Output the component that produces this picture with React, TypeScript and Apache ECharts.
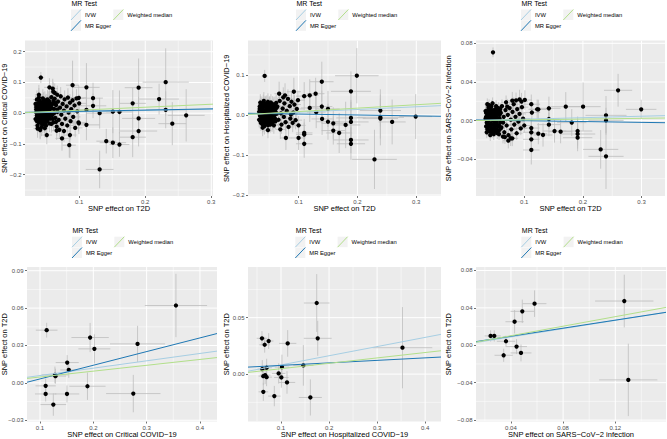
import { useEffect, useRef } from "react";
import * as echarts from "echarts";

const FONT = '"Liberation Sans", Arial, Helvetica, sans-serif';

// ---- data: [beta exposure, beta outcome, se exposure, se outcome] ----
const t2dCritical: number[][] = [
  [0.042,0.116,0.005,0.018],[0.231,0.101,0.035,0.11],[0.19,0.083,0.021,0.095],[0.221,0.046,0.03,0.05],
  [0.231,0.011,0.03,0.06],[0.262,-0.007,0.028,0.085],[0.241,-0.034,0.021,0.07],[0.19,-0.017,0.025,0.07],
  [0.19,-0.058,0.028,0.05],[0.181,0.032,0.02,0.05],[0.181,-0.078,0.02,0.065],[0.151,0.005,0.015,0.07],
  [0.161,0.004,0.02,0.07],[0.131,0.0,0.02,0.05],[0.141,-0.091,0.015,0.04],[0.151,-0.096,0.02,0.05],
  [0.161,-0.102,0.015,0.04],[0.131,-0.183,0.021,0.061],[0.111,0.084,0.02,0.079],[0.111,0.011,0.015,0.06],
  [0.111,-0.038,0.02,0.05],[0.121,0.049,0.015,0.05],[0.121,0.024,0.02,0.04],[0.085,-0.104,0.01,0.04],
  [0.086,-0.071,0.01,0.075],[0.074,-0.082,0.01,0.04],[0.09,0.091,0.01,0.08],[0.0995,0.05,0.012,0.04],
  [0.055,0.084,0.008,0.03],[0.051,-0.071,0.008,0.03],[0.048,-0.049,0.006,0.03],[0.077,-0.058,0.01,0.035],
  [0.0608,0.07,0.007,0.03],[0.0668,0.06,0.008,0.03],[0.0996,-0.033,0.012,0.035],[0.0408,-0.052,0.005,0.03],
  [0.066,-0.057,0.008,0.03],
  [0.035,0.012,0.004,0.024],[0.036,-0.008,0.005,0.026],[0.036,0.025,0.005,0.025],[0.037,-0.021,0.006,0.027],
  [0.037,0.004,0.005,0.023],[0.038,0.033,0.006,0.028],[0.038,-0.015,0.005,0.025],[0.039,0.018,0.005,0.024],
  [0.039,-0.031,0.006,0.028],[0.040,0.001,0.005,0.022],[0.040,0.041,0.006,0.029],[0.041,-0.004,0.005,0.024],
  [0.041,0.022,0.006,0.026],[0.042,-0.024,0.006,0.027],[0.042,0.009,0.005,0.023],[0.043,0.030,0.006,0.026],
  [0.043,-0.012,0.005,0.025],[0.044,0.015,0.006,0.024],[0.044,-0.037,0.006,0.029],[0.045,0.003,0.005,0.023],
  [0.045,0.026,0.006,0.027],[0.046,-0.019,0.006,0.026],[0.046,0.038,0.007,0.030],[0.047,0.007,0.005,0.024],
  [0.047,-0.028,0.006,0.028],[0.048,0.019,0.006,0.025],[0.048,-0.006,0.006,0.024],[0.049,0.031,0.006,0.027],
  [0.049,-0.015,0.006,0.026],[0.050,0.011,0.006,0.024],[0.050,-0.040,0.007,0.029],[0.051,0.024,0.006,0.026],
  [0.051,-0.002,0.006,0.023],[0.052,0.045,0.007,0.030],[0.052,-0.022,0.006,0.027],[0.053,0.006,0.006,0.024],
  [0.053,0.029,0.007,0.027],[0.054,-0.011,0.006,0.025],[0.054,0.016,0.006,0.024],[0.055,-0.033,0.007,0.028],
  [0.055,0.036,0.007,0.028],[0.056,0.002,0.006,0.024],[0.056,-0.018,0.007,0.026],[0.057,0.021,0.007,0.026],
  [0.034,0.030,0.004,0.027],[0.034,-0.019,0.004,0.026],[0.035,0.002,0.005,0.023],[0.036,0.044,0.006,0.030],
  [0.037,-0.040,0.006,0.029],[0.038,0.008,0.005,0.023],[0.039,0.051,0.006,0.031],[0.040,-0.026,0.006,0.027],
  [0.041,0.013,0.005,0.024],[0.042,0.036,0.006,0.028],[0.043,-0.045,0.006,0.030],[0.044,-0.002,0.005,0.023],
  [0.045,0.048,0.007,0.030],[0.046,0.010,0.006,0.024],[0.047,0.021,0.006,0.025],[0.048,-0.033,0.006,0.028],
  [0.049,0.004,0.006,0.024],[0.050,0.035,0.007,0.028],[0.051,-0.027,0.007,0.027],[0.052,0.013,0.006,0.024],
  [0.053,-0.004,0.006,0.024],[0.054,0.041,0.007,0.029],[0.036,0.017,0.005,0.025],[0.038,-0.003,0.005,0.023],
  [0.040,0.028,0.006,0.026],[0.042,-0.010,0.005,0.024],[0.044,0.032,0.006,0.027],[0.046,-0.008,0.006,0.025],
  [0.048,0.042,0.007,0.029],[0.050,-0.020,0.006,0.026],[0.052,0.002,0.006,0.023],[0.037,-0.050,0.006,0.030],
  [0.041,-0.055,0.006,0.030],[0.039,0.060,0.006,0.032],
  [0.035,0.020,0.004,0.025],[0.036,-0.026,0.005,0.027],[0.037,0.011,0.005,0.024],[0.038,-0.010,0.005,0.024],
  [0.039,0.027,0.005,0.026],[0.040,-0.017,0.005,0.025],[0.041,0.006,0.005,0.023],[0.042,0.017,0.005,0.025],
  [0.043,-0.029,0.006,0.027],[0.044,0.023,0.006,0.026],[0.045,-0.007,0.005,0.024],[0.046,0.016,0.006,0.025],
  [0.047,-0.037,0.006,0.028],[0.048,0.028,0.006,0.026],[0.049,-0.002,0.006,0.023],[0.050,0.021,0.006,0.025],
  [0.051,-0.011,0.006,0.025],[0.052,0.033,0.007,0.027],[0.053,-0.015,0.006,0.025],[0.055,0.010,0.006,0.024],
  [0.056,0.030,0.007,0.027],[0.057,-0.004,0.007,0.024],[0.058,-0.035,0.007,0.028],[0.059,0.016,0.007,0.025],
  [0.060,-0.019,0.007,0.026],[0.061,0.040,0.008,0.028],[0.062,0.000,0.007,0.025],[0.064,0.033,0.008,0.027],
  [0.065,-0.028,0.008,0.027],[0.067,0.012,0.008,0.025],
  [0.058,0.052,0.007,0.030],[0.059,-0.007,0.007,0.025],[0.060,0.030,0.007,0.027],[0.061,-0.030,0.008,0.028],
  [0.062,0.014,0.007,0.025],[0.063,0.047,0.008,0.029],[0.064,-0.015,0.008,0.026],[0.065,0.026,0.008,0.027],
  [0.066,-0.044,0.008,0.029],[0.067,0.004,0.008,0.025],[0.068,0.038,0.008,0.028],[0.069,-0.022,0.008,0.027],
  [0.071,0.018,0.009,0.026],[0.072,0.055,0.009,0.030],[0.073,-0.005,0.009,0.025],[0.074,-0.035,0.009,0.029],
  [0.075,0.030,0.009,0.027],[0.077,0.008,0.009,0.026],[0.078,0.045,0.009,0.029],[0.079,-0.018,0.009,0.027],
  [0.081,0.022,0.010,0.027],[0.082,-0.040,0.010,0.029],[0.083,0.051,0.010,0.030],[0.084,0.002,0.010,0.026],
  [0.086,0.034,0.010,0.028],[0.087,-0.026,0.010,0.060],[0.088,0.013,0.010,0.027],[0.090,0.042,0.011,0.029],
  [0.091,-0.012,0.011,0.027],[0.093,0.025,0.011,0.028],[0.094,-0.048,0.011,0.030],[0.096,0.048,0.011,0.030],
  [0.097,0.006,0.011,0.027],[0.099,-0.030,0.012,0.029],[0.100,0.032,0.012,0.028],[0.063,0.066,0.008,0.031],
  [0.070,-0.054,0.009,0.030],[0.060,0.080,0.008,0.032]
];

const t2dHospitalized: number[][] = [
  [0.0424,0.0975,0.005,0.015],[0.199,0.098,0.037,0.069],[0.1395,0.083,0.02,0.05],[0.189,0.059,0.034,0.05],
  [0.129,0.053,0.015,0.04],[0.119,0.049,0.015,0.04],[0.1096,0.047,0.014,0.035],[0.092,0.058,0.012,0.035],
  [0.067,0.053,0.008,0.03],[0.077,0.049,0.009,0.03],[0.1395,0.021,0.018,0.04],[0.15,0.015,0.02,0.045],
  [0.13,0.007,0.016,0.04],[0.119,0.0175,0.015,0.035],[0.14,-0.01,0.018,0.04],[0.15,-0.017,0.02,0.045],
  [0.159,-0.021,0.02,0.04],[0.159,-0.039,0.02,0.035],[0.169,-0.045,0.022,0.05],[0.18,-0.025,0.025,0.058],
  [0.189,-0.0075,0.025,0.045],[0.189,-0.0175,0.03,0.05],[0.189,-0.0625,0.03,0.033],[0.189,-0.072,0.024,0.04],
  [0.239,0.011,0.035,0.04],[0.239,-0.006,0.04,0.07],[0.239,-0.009,0.03,0.05],[0.259,-0.0175,0.023,0.056],
  [0.299,-0.004,0.028,0.056],[0.229,-0.111,0.038,0.074],[0.1096,-0.045,0.014,0.035],[0.1096,-0.049,0.014,0.03],
  [0.1096,-0.072,0.014,0.035],[0.1,-0.0575,0.012,0.03],[0.0785,-0.0575,0.01,0.03],[0.048,-0.038,0.006,0.02],
  [0.064,0.021,0.008,0.022],[0.066,-0.012,0.008,0.021],[0.068,0.035,0.008,0.024],[0.070,0.004,0.008,0.021],
  [0.071,-0.024,0.009,0.023],[0.073,0.016,0.009,0.022],[0.075,-0.005,0.009,0.021],[0.076,0.029,0.009,0.023],
  [0.078,-0.018,0.009,0.022],[0.080,0.010,0.010,0.022],[0.082,0.040,0.010,0.024],[0.083,-0.030,0.010,0.024],
  [0.085,0.022,0.010,0.023],[0.086,-0.009,0.010,0.022],[0.088,0.033,0.011,0.024],[0.090,-0.020,0.011,0.023],
  [0.091,0.006,0.011,0.022],[0.093,0.026,0.011,0.023],[0.095,-0.013,0.011,0.023],[0.097,0.015,0.012,0.023],
  [0.099,0.037,0.012,0.024],[0.100,-0.026,0.012,0.024],[0.074,0.044,0.009,0.025],[0.069,-0.036,0.008,0.024],
  [0.087,0.001,0.010,0.022],
  [0.033,0.008,0.004,0.018],[0.033,-0.012,0.004,0.019],[0.034,0.021,0.004,0.019],[0.035,-0.003,0.004,0.017],
  [0.035,0.014,0.004,0.018],[0.036,-0.020,0.005,0.020],[0.036,0.027,0.005,0.020],[0.037,0.002,0.004,0.017],
  [0.038,-0.009,0.005,0.018],[0.038,0.017,0.005,0.019],[0.039,-0.024,0.005,0.020],[0.040,0.009,0.005,0.018],
  [0.040,0.030,0.005,0.021],[0.041,-0.015,0.005,0.019],[0.042,0.004,0.005,0.017],[0.042,0.023,0.005,0.020],
  [0.043,-0.006,0.005,0.018],[0.044,0.012,0.005,0.018],[0.044,-0.019,0.005,0.020],[0.045,0.019,0.005,0.019],
  [0.046,-0.001,0.005,0.018],[0.046,0.028,0.006,0.021],[0.047,-0.013,0.005,0.019],[0.048,0.007,0.005,0.018],
  [0.048,-0.026,0.006,0.021],[0.049,0.016,0.006,0.019],[0.050,-0.007,0.006,0.018],[0.050,0.025,0.006,0.020],
  [0.051,0.001,0.006,0.018],[0.052,-0.017,0.006,0.020],[0.052,0.011,0.006,0.019],[0.053,0.031,0.006,0.021],
  [0.054,-0.003,0.006,0.018],[0.055,0.018,0.006,0.019],[0.055,-0.022,0.006,0.020],[0.056,0.005,0.006,0.018],
  [0.057,-0.011,0.007,0.019],[0.058,0.024,0.007,0.020],[0.059,-0.001,0.007,0.018],[0.060,0.013,0.007,0.019],
  [0.061,-0.016,0.007,0.020],[0.062,0.030,0.007,0.021],[0.063,0.003,0.007,0.019],[0.034,0.001,0.004,0.017],
  [0.035,0.031,0.004,0.021],[0.037,-0.016,0.005,0.019],[0.039,0.012,0.005,0.018],[0.041,0.035,0.005,0.022],
  [0.043,0.000,0.005,0.017],[0.045,-0.010,0.005,0.018],[0.047,0.014,0.005,0.019],[0.049,-0.020,0.006,0.020],
  [0.051,0.021,0.006,0.020],[0.053,-0.008,0.006,0.018],[0.054,0.009,0.006,0.018],[0.056,0.027,0.006,0.020],
  [0.058,-0.026,0.007,0.021],[0.036,0.010,0.004,0.018],[0.038,0.024,0.005,0.020],[0.040,-0.004,0.005,0.018],
  [0.042,-0.028,0.005,0.021],[0.044,0.026,0.005,0.020],[0.046,0.008,0.005,0.018],[0.048,0.033,0.006,0.021],
  [0.050,0.015,0.006,0.019],[0.052,-0.004,0.006,0.018],[0.057,0.010,0.006,0.018],[0.060,-0.009,0.007,0.019],
  [0.062,0.017,0.007,0.019],[0.039,-0.032,0.005,0.021],
  [0.034,0.015,0.004,0.018],[0.035,-0.015,0.004,0.019],[0.036,0.004,0.004,0.017],[0.037,0.022,0.005,0.019],
  [0.038,-0.004,0.005,0.017],[0.039,0.006,0.005,0.018],[0.040,0.019,0.005,0.019],[0.041,-0.022,0.005,0.020],
  [0.042,0.010,0.005,0.018],[0.043,0.028,0.005,0.020],[0.044,-0.011,0.005,0.018],[0.045,0.005,0.005,0.018],
  [0.046,0.021,0.005,0.019],[0.047,-0.004,0.005,0.018],[0.048,0.012,0.006,0.018],[0.049,-0.014,0.006,0.019],
  [0.050,0.004,0.006,0.018],[0.051,0.027,0.006,0.020],[0.052,-0.024,0.006,0.020],[0.053,0.017,0.006,0.019],
  [0.054,-0.010,0.006,0.018],[0.055,0.008,0.006,0.018],[0.056,-0.018,0.006,0.019],[0.057,0.020,0.006,0.019],
  [0.058,0.002,0.007,0.018],[0.059,-0.014,0.007,0.019],[0.060,0.026,0.007,0.020],[0.061,0.007,0.007,0.018]
];

const t2dInfection: number[][] = [
  [0.0467,0.0707,0.004,0.005],[0.26,0.0314,0.024,0.017],[0.2994,0.0117,0.026,0.01],[0.2394,0.0055,0.035,0.02],
  [0.2394,0.0003,0.03,0.013],[0.2003,0.0145,0.03,0.025],[0.1708,0.0145,0.025,0.015],[0.142,0.0128,0.02,0.012],
  [0.124,0.0117,0.015,0.01],[0.112,0.017,0.015,0.01],[0.101,0.0214,0.012,0.01],[0.092,0.022,0.011,0.01],
  [0.0953,0.0197,0.011,0.009],[0.0796,0.0207,0.01,0.009],[0.071,0.0145,0.009,0.008],[0.113,0.0084,0.014,0.009],
  [0.122,0.0118,0.015,0.01],[0.142,-0.0041,0.02,0.012],[0.142,0.0017,0.018,0.01],[0.1516,-0.0107,0.02,0.012],
  [0.162,-0.0114,0.02,0.012],[0.181,-0.002,0.025,0.014],[0.191,-0.0107,0.025,0.015],[0.191,-0.0138,0.03,0.015],
  [0.191,-0.0176,0.025,0.014],[0.2303,-0.0297,0.03,0.02],[0.2394,-0.0369,0.03,0.0337],[0.112,-0.0193,0.014,0.012],
  [0.112,-0.0303,0.014,0.015],[0.112,-0.0076,0.014,0.01],[0.112,-0.012,0.014,0.011],[0.124,-0.0134,0.015,0.011],
  [0.132,-0.0148,0.016,0.012],[0.0796,-0.0183,0.01,0.008],[0.0728,-0.0207,0.009,0.008],[0.0637,-0.0165,0.008,0.007],
  [0.0768,-0.0182,0.009,0.008],
  [0.060,0.008,0.007,0.006],[0.061,-0.007,0.007,0.006],[0.062,0.015,0.007,0.007],[0.064,-0.002,0.007,0.006],
  [0.065,0.004,0.008,0.006],[0.066,-0.012,0.008,0.007],[0.068,0.011,0.008,0.006],[0.069,0.019,0.008,0.007],
  [0.070,-0.005,0.008,0.006],[0.072,0.006,0.008,0.006],[0.073,-0.015,0.009,0.007],[0.075,0.013,0.009,0.007],
  [0.077,0.001,0.009,0.006],[0.078,-0.009,0.009,0.007],[0.080,0.009,0.009,0.007],[0.082,0.017,0.010,0.007],
  [0.083,-0.004,0.010,0.006],[0.085,0.004,0.010,0.007],[0.087,-0.013,0.010,0.007],[0.088,0.012,0.010,0.007],
  [0.090,-0.001,0.011,0.007],[0.092,0.007,0.011,0.007],[0.094,-0.008,0.011,0.007],[0.096,0.014,0.011,0.007],
  [0.098,0.002,0.012,0.007],[0.100,-0.005,0.012,0.007],[0.086,0.021,0.010,0.008],[0.067,-0.017,0.008,0.007],
  [0.034,0.002,0.004,0.005],[0.035,-0.006,0.004,0.005],[0.035,0.008,0.004,0.005],[0.036,-0.002,0.004,0.005],
  [0.037,0.005,0.004,0.005],[0.037,-0.009,0.005,0.006],[0.038,0.011,0.005,0.006],[0.039,0.000,0.005,0.005],
  [0.040,-0.005,0.005,0.005],[0.040,0.007,0.005,0.005],[0.041,-0.011,0.005,0.006],[0.042,0.003,0.005,0.005],
  [0.042,0.012,0.005,0.006],[0.043,-0.003,0.005,0.005],[0.044,0.009,0.005,0.005],[0.044,-0.008,0.005,0.006],
  [0.045,0.001,0.005,0.005],[0.046,0.005,0.005,0.005],[0.046,-0.010,0.005,0.006],[0.047,0.010,0.006,0.006],
  [0.048,-0.004,0.006,0.005],[0.048,0.003,0.006,0.005],[0.049,-0.007,0.006,0.005],[0.050,0.008,0.006,0.005],
  [0.050,-0.001,0.006,0.005],[0.051,0.012,0.006,0.006],[0.052,-0.009,0.006,0.006],[0.052,0.004,0.006,0.005],
  [0.053,-0.003,0.006,0.005],[0.054,0.009,0.006,0.006],[0.055,-0.006,0.006,0.005],[0.055,0.002,0.006,0.005],
  [0.056,0.013,0.007,0.006],[0.057,-0.010,0.007,0.006],[0.058,0.006,0.007,0.006],[0.059,-0.002,0.007,0.005],
  [0.034,0.010,0.004,0.006],[0.036,0.004,0.004,0.005],[0.038,-0.007,0.005,0.005],[0.039,0.014,0.005,0.006],
  [0.041,0.001,0.005,0.005],[0.043,0.006,0.005,0.005],[0.045,-0.012,0.005,0.006],[0.047,0.000,0.006,0.005],
  [0.049,0.011,0.006,0.006],[0.051,-0.005,0.006,0.005],[0.053,0.007,0.006,0.005],[0.054,-0.013,0.006,0.006],
  [0.056,0.001,0.007,0.005],[0.058,0.010,0.007,0.006],[0.036,-0.012,0.004,0.006],[0.040,0.016,0.005,0.006],
  [0.044,0.015,0.005,0.006],[0.048,-0.014,0.006,0.006],[0.052,0.015,0.006,0.006],[0.057,-0.014,0.007,0.006],
  [0.037,0.017,0.005,0.006],[0.042,-0.015,0.005,0.006],[0.046,0.018,0.006,0.006],
  [0.035,0.004,0.004,0.005],[0.036,0.009,0.004,0.005],[0.037,-0.003,0.004,0.005],[0.038,0.002,0.005,0.005],
  [0.039,-0.010,0.005,0.006],[0.040,0.011,0.005,0.006],[0.041,0.005,0.005,0.005],[0.042,-0.006,0.005,0.005],
  [0.043,0.013,0.005,0.006],[0.044,0.002,0.005,0.005],[0.045,-0.004,0.005,0.005],[0.046,0.010,0.005,0.006],
  [0.047,-0.008,0.006,0.006],[0.048,0.007,0.006,0.005],[0.049,0.001,0.006,0.005],[0.050,-0.011,0.006,0.006],
  [0.051,0.006,0.006,0.005],[0.052,-0.001,0.006,0.005],[0.053,0.011,0.006,0.006],[0.054,0.003,0.006,0.005],
  [0.055,-0.010,0.006,0.006],[0.056,0.008,0.007,0.006],[0.057,-0.005,0.007,0.005],[0.058,0.002,0.007,0.005],
  [0.059,0.012,0.007,0.006],[0.060,-0.008,0.007,0.006]
];

const criticalT2d: number[][] = [
  [0.355,0.0621,0.0584,0.0254],[0.1125,0.0423,0.0203,0.0059],[0.194,0.0364,0.035,0.0117],
  [0.202,0.0273,0.030,0.0117],[0.283,0.0313,0.0516,0.0145],[0.151,0.0163,0.0216,0.006],
  [0.154,0.0104,0.016,0.0064],[0.128,0.0064,0.025,0.0067],[0.129,0.0054,0.02,0.006],
  [0.1106,-0.0024,0.019,0.0059],[0.1106,-0.0089,0.02,0.006],[0.1506,-0.0089,0.023,0.0068],
  [0.125,-0.0174,0.024,0.009],[0.189,-0.0027,0.034,0.011],[0.275,-0.0086,0.051,0.015]
];

const hospitalizedT2d: number[][] = [
  [0.1743,0.063,0.0267,0.0256],[0.1764,0.0317,0.029,0.0155],[0.3528,0.0234,0.062,0.036],
  [0.1139,0.0272,0.018,0.0118],[0.0604,0.0317,0.011,0.0064],[0.0743,0.0293,0.01,0.007],
  [0.066,0.026,0.011,0.007],[0.1465,0.0077,0.021,0.018],[0.102,0.0062,0.015,0.011],
  [0.0701,0.0056,0.011,0.008],[0.061,0.0044,0.01,0.008],[0.0951,0.0006,0.014,0.009],
  [0.0632,-0.0018,0.01,0.008],[0.067,-0.0009,0.011,0.008],[0.07,-0.0027,0.011,0.008],
  [0.1007,-0.003,0.015,0.009],[0.1125,-0.0074,0.017,0.01],[0.0632,-0.0157,0.01,0.008],
  [0.0861,-0.0195,0.013,0.009],[0.1611,-0.0207,0.024,0.016]
];

const infectionT2d: number[][] = [
  [0.1269,0.0473,0.0224,0.0282],[0.13,-0.037,0.0223,0.0387],[0.0581,0.0445,0.0091,0.0142],
  [0.0487,0.0363,0.009,0.0125],[0.0428,0.0252,0.007,0.0125],[0.0244,0.01,0.0046,0.006],
  [0.0272,0.01,0.005,0.006],[0.0362,0.0043,0.007,0.006],[0.0443,-0.0014,0.008,0.008],
  [0.0477,-0.0082,0.008,0.009],[0.0344,-0.0107,0.007,0.007]
];

// MR method estimates: [IVW, MR Egger, Weighted median]
const methods = ["IVW", "MR Egger", "Weighted median"];
const methodColors = ["#a6cee3", "#1f78b4", "#b2df8a"];
const slopes1 = [0.045, 0.04, 0.097];
const intercepts1 = [0, 0.002, 0];
const slopes2 = [0.068, -0.0229, 0.085];
const intercepts2 = [0, 0.0045, 0];
const slopes3 = [0.0153, -0.0087, 0.0081];
const intercepts3 = [0, 0.00085, 0];
const slopes4 = [0.059, 0.1097, 0.047];
const intercepts4 = [0, -0.0078, 0];
const slopes5 = [0.0813, 0.0222, 0.0478];
const intercepts5 = [0, 0.0055, 0];
const slopes6 = [0.222, 0.2148, 0.255];
const intercepts6 = [0, 0.0011, 0];

// tick values and labels
const t2dXTicks = [0.1, 0.2, 0.3];
const t2dXLabels = ["0.1", "0.2", "0.3"];
const p1YTicks = [-0.2, -0.1, 0, 0.1, 0.2];
const p1YLabels = ["\u22120.2", "\u22120.1", "0.0", "0.1", "0.2"];
const p2YTicks = [-0.2, -0.1, 0, 0.1];
const p2YLabels = ["\u22120.2", "\u22120.1", "0.0", "0.1"];
const p3YTicks = [-0.04, 0, 0.04, 0.08];
const p3YLabels = ["\u22120.04", "0.00", "0.04", "0.08"];
const p4XTicks = [0.1, 0.2, 0.3, 0.4];
const p4XLabels = ["0.1", "0.2", "0.3", "0.4"];
const p4YTicks = [-0.03, 0, 0.03, 0.06, 0.09];
const p4YLabels = ["\u22120.03", "0.00", "0.03", "0.06", "0.09"];
const p5YTicks = [0, 0.05];
const p5YLabels = ["0.00", "0.05"];
const p6XTicks = [0.04, 0.08, 0.12];
const p6XLabels = ["0.04", "0.08", "0.12"];
const p6YTicks = [-0.08, -0.04, 0, 0.04, 0.08];
const p6YLabels = ["\u22120.08", "\u22120.04", "0.00", "0.04", "0.08"];

const panels = [
  { data: t2dCritical, slopes: slopes1, intercepts: intercepts1, box: [25, 40.5, 188, 155.5],
    x: [0.018, 0.3026], y: [-0.2694, 0.2365], xTicks: t2dXTicks, xLabels: t2dXLabels, xMinor: [0.05, 0.15, 0.25],
    yTicks: p1YTicks, yLabels: p1YLabels, yMinor: [-0.25, -0.15, -0.05, 0.05, 0.15],
    xTitle: "SNP effect on T2D", yTitle: "SNP effect on Critical COVID\u221219", legendX: 71, yTitleX: 4.7, row: 0 },
  { data: t2dHospitalized, slopes: slopes2, intercepts: intercepts2, box: [248, 40.5, 193, 155.5],
    x: [0.0141, 0.342], y: [-0.2025, 0.186], xTicks: t2dXTicks, xLabels: t2dXLabels, xMinor: [0.05, 0.15, 0.25],
    yTicks: p2YTicks, yLabels: p2YLabels, yMinor: [-0.15, -0.05, 0.05, 0.15],
    xTitle: "SNP effect on T2D", yTitle: "SNP effect on Hospitalized COVID\u221219", legendX: 296, yTitleX: 226.7, row: 0 },
  { data: t2dInfection, slopes: slopes3, intercepts: intercepts3, box: [476, 40.5, 189, 155.5],
    x: [0.0177, 0.34], y: [-0.0779, 0.0829], xTicks: t2dXTicks, xLabels: t2dXLabels, xMinor: [0.05, 0.15, 0.25],
    yTicks: p3YTicks, yLabels: p3YLabels, yMinor: [-0.06, -0.02, 0.02, 0.06],
    xTitle: "SNP effect on T2D", yTitle: "SNP effect on SARS\u2212CoV\u22122 infection", legendX: 521, yTitleX: 448.7, row: 0 },
  { data: criticalT2d, slopes: slopes4, intercepts: intercepts4, box: [27, 267, 190, 154.5],
    x: [0.0756, 0.432], y: [-0.031, 0.093], xTicks: p4XTicks, xLabels: p4XLabels, xMinor: [0.15, 0.25, 0.35],
    yTicks: p4YTicks, yLabels: p4YLabels, yMinor: [-0.015, 0.015, 0.045, 0.075],
    xTitle: "SNP effect on Critical COVID\u221219", yTitle: "SNP effect on T2D", legendX: 72, yTitleX: 4.7, row: 1 },
  { data: hospitalizedT2d, slopes: slopes5, intercepts: intercepts5, box: [248, 267, 193, 154.5],
    x: [0.0313, 0.433], y: [-0.042, 0.0949], xTicks: p4XTicks, xLabels: p4XLabels, xMinor: [0.05, 0.15, 0.25, 0.35],
    yTicks: p5YTicks, yLabels: p5YLabels, yMinor: [-0.025, 0.025, 0.075],
    xTitle: "SNP effect on Hospitalized COVID\u221219", yTitle: "SNP effect on T2D", legendX: 295.3, yTitleX: 226.7, row: 1 },
  { data: infectionT2d, slopes: slopes6, intercepts: intercepts6, box: [476, 267, 190, 154.5],
    x: [0.0132, 0.1589], y: [-0.0815, 0.0837], xTicks: p6XTicks, xLabels: p6XLabels, xMinor: [0.02, 0.06, 0.1, 0.14],
    yTicks: p6YTicks, yLabels: p6YLabels, yMinor: [-0.06, -0.02, 0.02, 0.06],
    xTitle: "SNP effect on SARS\u2212CoV\u22122 infection", yTitle: "SNP effect on T2D", legendX: 521.3, yTitleX: 448.7, row: 1 },
];

const fmt = (ticks: number[], labels: string[]) => (v: number) => {
  const i = ticks.findIndex((t) => Math.abs(t - v) < 1e-9);
  return i >= 0 ? labels[i] : "";
};

function buildOption() {
  const grid: any[] = [];
  const xAxis: any[] = [];
  const yAxis: any[] = [];
  const series: any[] = [];
  const graphic: any[] = [];

  panels.forEach((p, i) => {
    grid.push({ left: p.box[0], top: p.box[1], width: p.box[2], height: p.box[3], show: true,
      backgroundColor: "#ebebeb", borderWidth: 0, containLabel: false });
    const axisCommon = {
      splitLine: { show: false }, minorSplitLine: { show: false }, minorTick: { show: false },
      axisLine: { show: false, onZero: false },
    };
    const labelStyle = { fontSize: 6, color: "#4d4d4d", fontFamily: FONT, fontWeight: "normal" };
    xAxis.push({ type: "value", gridIndex: i, min: p.x[0], max: p.x[1], ...axisCommon,
      axisTick: { show: true, length: 2, lineStyle: { color: "#333333", width: 0.7 }, customValues: p.xTicks },
      axisLabel: { customValues: p.xTicks, formatter: fmt(p.xTicks, p.xLabels), margin: 3, ...labelStyle } });
    yAxis.push({ type: "value", gridIndex: i, min: p.y[0], max: p.y[1], ...axisCommon,
      axisTick: { show: true, length: 2, lineStyle: { color: "#333333", width: 0.7 }, customValues: p.yTicks },
      axisLabel: { customValues: p.yTicks, formatter: fmt(p.yTicks, p.yLabels), margin: 3.5, ...labelStyle } });

    const gridData = [
      ...p.xTicks.map((v) => [v, 0]), ...p.xMinor.map((v) => [v, 1]),
      ...p.yTicks.map((v) => [v, 2]), ...p.yMinor.map((v) => [v, 3]),
    ];
    series.push({
      type: "custom", xAxisIndex: i, yAxisIndex: i, silent: true, z: 1, clip: true, data: gridData,
      renderItem: (params: any, api: any) => {
        const v = api.value(0);
        const k = api.value(1);
        const cs = params.coordSys;
        const w = k === 0 || k === 2 ? 1 : 0.5;
        if (k < 2) {
          const px = api.coord([v, p.y[0]])[0];
          return { type: "line", shape: { x1: px, y1: cs.y, x2: px, y2: cs.y + cs.height },
            style: { stroke: "#ffffff", lineWidth: w } };
        }
        const py = api.coord([p.x[0], v])[1];
        return { type: "line", shape: { x1: cs.x, y1: py, x2: cs.x + cs.width, y2: py },
          style: { stroke: "#ffffff", lineWidth: w } };
      },
    });

    series.push({
      type: "custom", xAxisIndex: i, yAxisIndex: i, silent: true, z: 2, clip: true, data: p.data,
      renderItem: (_params: any, api: any) => {
        const x = api.value(0), y = api.value(1), sx = api.value(2), sy = api.value(3);
        const a = api.coord([x - sx, y]), b = api.coord([x + sx, y]);
        const c = api.coord([x, y - sy]), d = api.coord([x, y + sy]);
        const st = { stroke: "#bebebe", lineWidth: 0.8 };
        return { type: "group", children: [
          { type: "line", shape: { x1: a[0], y1: a[1], x2: b[0], y2: b[1] }, style: st },
          { type: "line", shape: { x1: c[0], y1: c[1], x2: d[0], y2: d[1] }, style: st },
        ] };
      },
    });

    series.push({
      type: "scatter", xAxisIndex: i, yAxisIndex: i, silent: true, z: 3,
      data: p.data.map((d) => [d[0], d[1]]), symbolSize: 4.3, itemStyle: { color: "#000000", opacity: 1 },
    });

    methods.forEach((m, j) => {
      const s = p.slopes[j], b = p.intercepts[j];
      series.push({
        type: "line", name: m, xAxisIndex: i, yAxisIndex: i, silent: true, z: 4 + j,
        showSymbol: false, symbol: "none", clip: true,
        data: [[p.x[0], b + s * p.x[0]], [p.x[1], b + s * p.x[1]]],
        lineStyle: { color: methodColors[j], width: 1 },
      });
    });

    // titles
    const cx = p.box[0] + p.box[2] / 2;
    const cy = p.box[1] + p.box[3] / 2;
    const titleStyle = { fontSize: 7.5, fontFamily: FONT, fontWeight: "normal", fill: "#000000",
      align: "center", verticalAlign: "middle" };
    graphic.push({ type: "text", x: cx, y: p.row === 0 ? 208.5 : 434, z: 10,
      style: { text: p.xTitle, ...titleStyle } });
    graphic.push({ type: "text", x: p.yTitleX, y: cy, rotation: Math.PI / 2, z: 10,
      style: { text: p.yTitle, ...titleStyle } });

    // legend
    const L = p.legendX;
    const T = p.row === 0 ? 9.5 : 236.7;
    graphic.push({ type: "text", x: L + 0.5, y: T - 5.8, z: 10,
      style: { text: "MR Test", fontSize: 7, fontFamily: FONT, fontWeight: "normal", fill: "#000000",
        align: "left", verticalAlign: "middle" } });
    const keys = [
      { x: L, y: T }, { x: L, y: T + 10.8 }, { x: L + 42.3, y: T },
    ];
    methods.forEach((m, j) => {
      const k = keys[j];
      graphic.push({ type: "rect", z: 10, shape: { x: k.x, y: k.y, width: 10, height: 10.5 }, style: { fill: "#f2f2f2" } });
      graphic.push({ type: "line", z: 11, shape: { x1: k.x, y1: k.y + 10.5, x2: k.x + 10, y2: k.y },
        style: { stroke: methodColors[j], lineWidth: 1 } });
      graphic.push({ type: "text", x: k.x + 14, y: k.y + 5.3, z: 10,
        style: { text: m, fontSize: 5.8, fontFamily: FONT, fontWeight: "normal", fill: "#000000",
          align: "left", verticalAlign: "middle" } });
    });
  });

  return { animation: false, backgroundColor: "#ffffff", grid, xAxis, yAxis, series, graphic };
}

export default function App() {
  const ref = useRef<HTMLDivElement | null>(null);
  useEffect(() => {
    if (!ref.current) return;
    const chart = echarts.init(ref.current, null, { renderer: "svg" });
    chart.setOption(buildOption() as any);
    return () => chart.dispose();
  }, []);
  return <div ref={ref} style={{ position: "absolute", left: 0, top: 0, width: 667, height: 439 }} />;
}
